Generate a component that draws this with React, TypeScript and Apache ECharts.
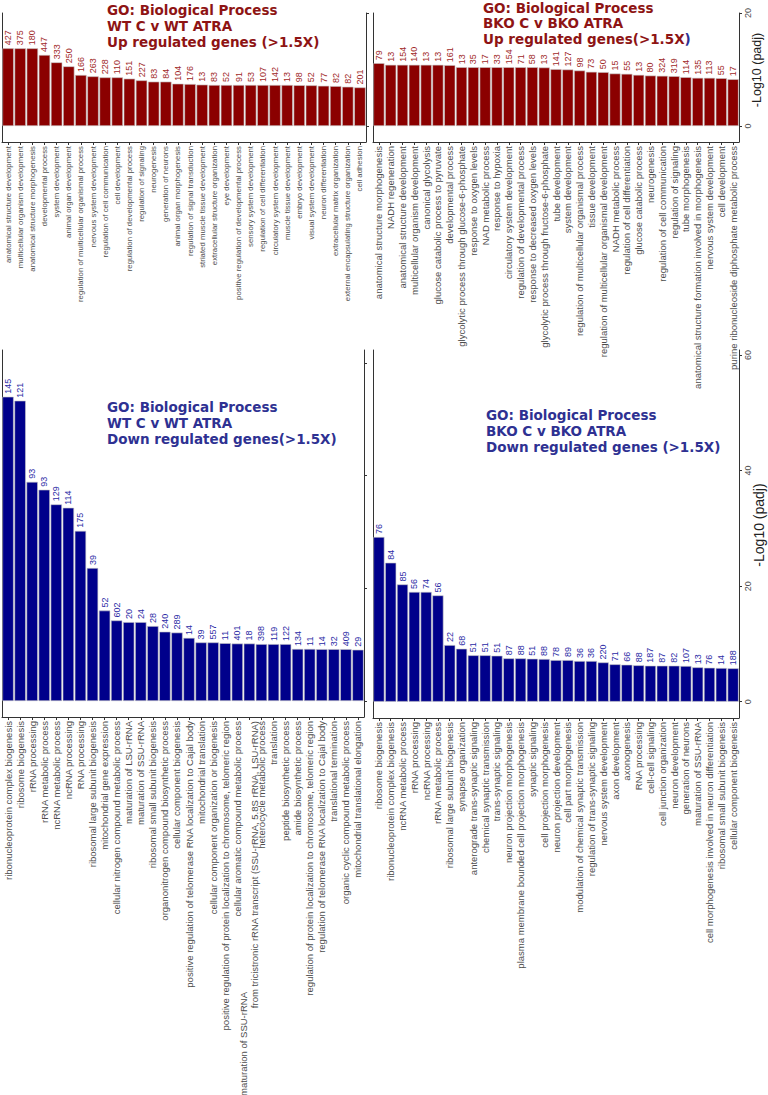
import React, { useEffect, useRef } from "react";
import * as echarts from "echarts";

// ---------- DATA ----------
const tlCats = [
  "anatomical structure development", "multicellular organism development", "anatomical structure morphogenesis",
  "developmental process", "system development", "animal organ development",
  "regulation of multicellular organismal process", "nervous system development", "regulation of cell communication",
  "cell development", "regulation of developmental process", "regulation of signaling", "neurogenesis",
  "generation of neurons", "animal organ morphogenesis", "regulation of signal transduction",
  "striated muscle tissue development", "extracellular structure organization", "eye development",
  "positive regulation of developmental process", "sensory system development", "regulation of cell differentiation",
  "circulatory system development", "muscle tissue development", "embryo development", "visual system development",
  "neuron differentiation", "extracellular matrix organization", "external encapsulating structure organization",
  "cell adhesion",
];
const tlVals = [13.75, 13.75, 13.75, 12.57, 11.27, 10.56, 9.03, 8.79, 8.61, 8.61, 8.38, 8.08, 7.85, 7.85, 7.49, 7.43, 7.32, 7.26, 7.26, 7.26, 7.26, 7.26, 7.26, 7.26, 7.22, 7.2, 7.12, 7.06, 6.95, 6.83];
const tlCounts = [427, 375, 180, 447, 333, 250, 166, 263, 228, 110, 151, 227, 83, 84, 104, 176, 13, 83, 52, 91, 53, 107, 142, 13, 98, 52, 77, 82, 82, 201];

const trCats = [
  "anatomical structure morphogenesis", "NADH regeneration", "anatomical structure development",
  "multicellular organism development", "canonical glycolysis", "glucose catabolic process to pyruvate",
  "developmental process", "glycolytic process through glucose-6-phosphate", "response to oxygen levels",
  "NAD metabolic process", "response to hypoxia", "circulatory system development",
  "regulation of developmental process", "response to decreased oxygen levels",
  "glycolytic process through fructose-6-phosphate", "tube development", "system development",
  "regulation of multicellular organismal process", "tissue development",
  "regulation of multicellular organismal development", "NADH metabolic process",
  "regulation of cell differentiation", "glucose catabolic process", "neurogenesis",
  "regulation of cell communication", "regulation of signaling", "tube morphogenesis",
  "anatomical structure formation involved in morphogenesis", "nervous system development", "cell development",
  "purine ribonucleoside diphosphate metabolic process",
];
const trVals = [11.12, 10.83, 10.83, 10.83, 10.83, 10.83, 10.77, 10.41, 10.41, 10.41, 10.41, 10.41, 10.41, 10.41, 10.36, 10.06, 10.0, 9.82, 9.59, 9.53, 9.29, 9.23, 9.05, 8.93, 8.88, 8.82, 8.64, 8.52, 8.52, 8.46, 8.28];
const trCounts = [79, 13, 154, 140, 13, 13, 161, 13, 35, 17, 33, 154, 71, 58, 13, 141, 127, 98, 73, 50, 15, 55, 13, 80, 324, 319, 114, 135, 113, 55, 17];

const blCats = [
  "ribonucleoprotein complex biogenesis", "ribosome biogenesis", "rRNA processing", "rRNA metabolic process",
  "ncRNA metabolic process", "ncRNA processing", "RNA processing", "ribosomal large subunit biogenesis",
  "mitochondrial gene expression", "cellular nitrogen compound metabolic process", "maturation of LSU-rRNA",
  "maturation of SSU-rRNA", "ribosomal small subunit biogenesis", "organonitrogen compound biosynthetic process",
  "cellular component biogenesis", "positive regulation of telomerase RNA localization to Cajal body",
  "mitochondrial translation", "cellular component organization or biogenesis",
  "positive regulation of protein localization to chromosome, telomeric region",
  "cellular aromatic compound metabolic process",
  "maturation of SSU-rRNA\nfrom tricistronic rRNA transcript (SSU-rRNA, 5.8S rRNA, LSU-rRNA)",
  "heterocycle metabolic process", "translation", "peptide biosynthetic process", "amide biosynthetic process",
  "regulation of protein localization to chromosome, telomeric region",
  "regulation of telomerase RNA localization to Cajal body", "translational termination",
  "organic cyclic compound metabolic process", "mitochondrial translational elongation",
];
const blVals = [54.0, 53.3, 38.9, 37.5, 34.9, 34.3, 30.2, 23.6, 16.05, 14.3, 14.0, 14.0, 13.3, 12.3, 12.15, 11.2, 10.4, 10.4, 10.26, 10.2, 10.2, 10.1, 10.1, 10.1, 9.24, 9.24, 9.2, 9.2, 9.2, 9.1];
const blCounts = [145, 121, 93, 93, 129, 114, 175, 39, 52, 602, 20, 24, 28, 240, 289, 14, 39, 557, 11, 401, 18, 398, 119, 122, 134, 11, 14, 32, 409, 29];

const brCats = [
  "ribosome biogenesis", "ribonucleoprotein complex biogenesis", "ncRNA metabolic process", "rRNA processing",
  "ncRNA processing", "rRNA metabolic process", "ribosomal large subunit biogenesis", "synapse organization",
  "anterograde trans-synaptic signaling", "chemical synaptic transmission", "trans-synaptic signaling",
  "neuron projection morphogenesis", "plasma membrane bounded cell projection morphogenesis", "synaptic signaling",
  "cell projection morphogenesis", "neuron projection development", "cell part morphogenesis",
  "modulation of chemical synaptic transmission", "regulation of trans-synaptic signaling",
  "nervous system development", "axon development", "axonogenesis", "RNA processing", "cell-cell signaling",
  "cell junction organization", "neuron development", "generation of neurons", "maturation of SSU-rRNA",
  "cell morphogenesis involved in neuron differentiation", "ribosomal small subunit biogenesis",
  "cellular component biogenesis",
];
const brVals = [28.5, 24.05, 20.3, 19.0, 19.0, 18.4, 9.8, 9.17, 8.03, 8.03, 7.96, 7.5, 7.5, 7.44, 7.39, 7.2, 7.2, 7.04, 7.04, 6.8, 6.47, 6.4, 6.3, 6.23, 6.23, 6.23, 6.18, 5.95, 5.88, 5.83, 5.78];
const brCounts = [76, 84, 85, 56, 74, 56, 22, 68, 51, 51, 51, 87, 88, 51, 88, 78, 89, 36, 36, 220, 71, 66, 88, 187, 87, 82, 107, 13, 76, 14, 188];

const topTicks = [0, 20];
const bottomTicks = [0, 20, 40, 60];
const axisName = "-Log10 (padj)";

// ---------- STYLE ----------
const RED = "#8b0000";
const BLUE = "#00008b";
const RED_TITLE = "#8e1414";
const BLUE_TITLE = "#2e3192";
const RED_LABEL = "#a02828";
const BLUE_LABEL = "#2a2aa5";
const AXIS = "#333333";
const TEXT = "#4d4d4d";
const SANS = "Liberation Sans, Arial, sans-serif";
const BOLD = "DejaVu Sans, sans-serif";

const panels = [
  { cats: tlCats, vals: tlVals, counts: tlCounts, left: 2, top: 13, width: 364, height: 129, min: -2.83, max: 20, ticks: topTicks, tickLabels: false, color: RED, labelColor: RED_LABEL, catFont: 7.8 },
  { cats: trCats, vals: trVals, counts: trCounts, left: 373, top: 13, width: 366, height: 129, min: -2.83, max: 20, ticks: topTicks, tickLabels: true, color: RED, labelColor: RED_LABEL, catFont: 9.5 },
  { cats: blCats, vals: blVals, counts: blCounts, left: 2, top: 350, width: 362, height: 367, min: -2.84, max: 62.3, ticks: bottomTicks, tickLabels: false, color: BLUE, labelColor: BLUE_LABEL, catFont: 9.5 },
  { cats: brCats, vals: brVals, counts: brCounts, left: 373, top: 350, width: 366, height: 368, min: -2.82, max: 60.87, ticks: bottomTicks, tickLabels: true, color: BLUE, labelColor: BLUE_LABEL, catFont: 9.5 },
];

function buildOption() {
  const grid: any[] = [];
  const xAxis: any[] = [];
  const yAxis: any[] = [];
  const series: any[] = [];
  panels.forEach((p, i) => {
    grid.push({ left: p.left, top: p.top, width: p.width, height: p.height, containLabel: false, outerBoundsMode: "none" });
    xAxis.push({
      type: "category",
      gridIndex: i,
      data: p.cats,
      boundaryGap: true,
      axisLine: { show: true, onZero: false, lineStyle: { color: AXIS, width: 1 } },
      axisTick: { show: true, alignWithLabel: true, interval: 0, length: 3, lineStyle: { color: AXIS } },
      axisLabel: {
        interval: 0,
        rotate: 90,
        margin: 4,
        fontSize: p.catFont,
        color: TEXT,
        fontFamily: SANS,
        formatter: (v: string) => {
          if (v.indexOf("\n") >= 0) {
            const parts = v.split("\n");
            return "{a|" + parts[0] + "}\n{b|" + parts[1] + "}";
          }
          return v;
        },
        rich: {
          a: { fontSize: p.catFont, color: TEXT, fontFamily: SANS, padding: [0, 271, 0, 0], lineHeight: 11 },
          b: { fontSize: p.catFont, color: TEXT, fontFamily: SANS, lineHeight: 11 },
        },
      },
      splitLine: { show: false },
    });
    yAxis.push({
      type: "value",
      gridIndex: i,
      position: "right",
      min: p.min,
      max: p.max,
      axisLine: { show: true, lineStyle: { color: AXIS, width: 1 } },
      axisTick: { show: true, length: 3, customValues: p.ticks, lineStyle: { color: AXIS } },
      axisLabel: {
        show: p.tickLabels,
        customValues: p.ticks,
        rotate: 90,
        align: "center",
        verticalAlign: "top",
        margin: 4,
        fontSize: 9,
        color: TEXT,
        fontFamily: SANS,
      },
      splitLine: { show: false },
    });
    yAxis.push({
      type: "value",
      gridIndex: i,
      position: "left",
      min: p.min,
      max: p.max,
      axisLine: { show: true, lineStyle: { color: AXIS, width: 1 } },
      axisTick: { show: false },
      axisLabel: { show: false },
      splitLine: { show: false },
    });
    series.push({
      type: "bar",
      xAxisIndex: i,
      yAxisIndex: 2 * i,
      data: p.vals,
      barCategoryGap: "6%",
      itemStyle: { color: p.color, borderColor: "#c8c8c8", borderWidth: 0.6 },
      label: {
        show: true,
        position: "top",
        rotate: 90,
        align: "left",
        verticalAlign: "middle",
        distance: 3,
        fontSize: 9,
        color: p.labelColor,
        fontFamily: SANS,
        formatter: (q: any) => String(p.counts[q.dataIndex]),
      },
    });
  });

  const titleStyle = (color: string) => ({
    color,
    fontSize: 13.5,
    fontWeight: "bold",
    fontFamily: BOLD,
    lineHeight: 16,
  });

  const title = [
    { text: "GO: Biological Process\nWT C v WT ATRA\nUp regulated genes (>1.5X)", left: 107, top: 2, padding: 0, textStyle: titleStyle(RED_TITLE) },
    {
      text: "GO: Biological Process\nBKO C v BKO ATRA\nUp regulated genes(>1.5X{b|)}",
      left: 483,
      top: 0,
      padding: 0,
      textStyle: { ...titleStyle(RED_TITLE), lineHeight: 15.5, rich: { b: { color: BLUE_TITLE, fontSize: 13.5, fontWeight: "bold", fontFamily: BOLD, lineHeight: 15.5 } } },
    },
    { text: "GO: Biological Process\nWT C v WT ATRA\nDown regulated genes(>1.5X)", left: 107, top: 399, padding: 0, textStyle: titleStyle(BLUE_TITLE) },
    { text: "GO: Biological Process\nBKO C v BKO ATRA\nDown regulated genes (>1.5X)", left: 486, top: 407, padding: 0, textStyle: titleStyle(BLUE_TITLE) },
  ];

  const graphic = [
    { type: "text", x: 757, y: 70, rotation: Math.PI / 2, style: { text: axisName, fontSize: 12.5, fontFamily: SANS, fill: "#222", align: "center", verticalAlign: "middle" } },
    { type: "text", x: 759, y: 525, rotation: Math.PI / 2, style: { text: axisName, fontSize: 14, fontFamily: SANS, fill: "#222", align: "center", verticalAlign: "middle" } },
  ];

  return {
    animation: false,
    backgroundColor: "#ffffff",
    title,
    grid,
    xAxis,
    yAxis,
    series,
    graphic,
  };
}

export default function App() {
  const ref = useRef<HTMLDivElement>(null);
  useEffect(() => {
    document.body.style.margin = "0";
    if (!ref.current) return;
    const chart = echarts.init(ref.current, undefined, { renderer: "svg" });
    chart.setOption(buildOption() as any);
    return () => chart.dispose();
  }, []);
  return <div ref={ref} style={{ position: "absolute", left: 0, top: 0, width: 768, height: 1095 }} />;
}
